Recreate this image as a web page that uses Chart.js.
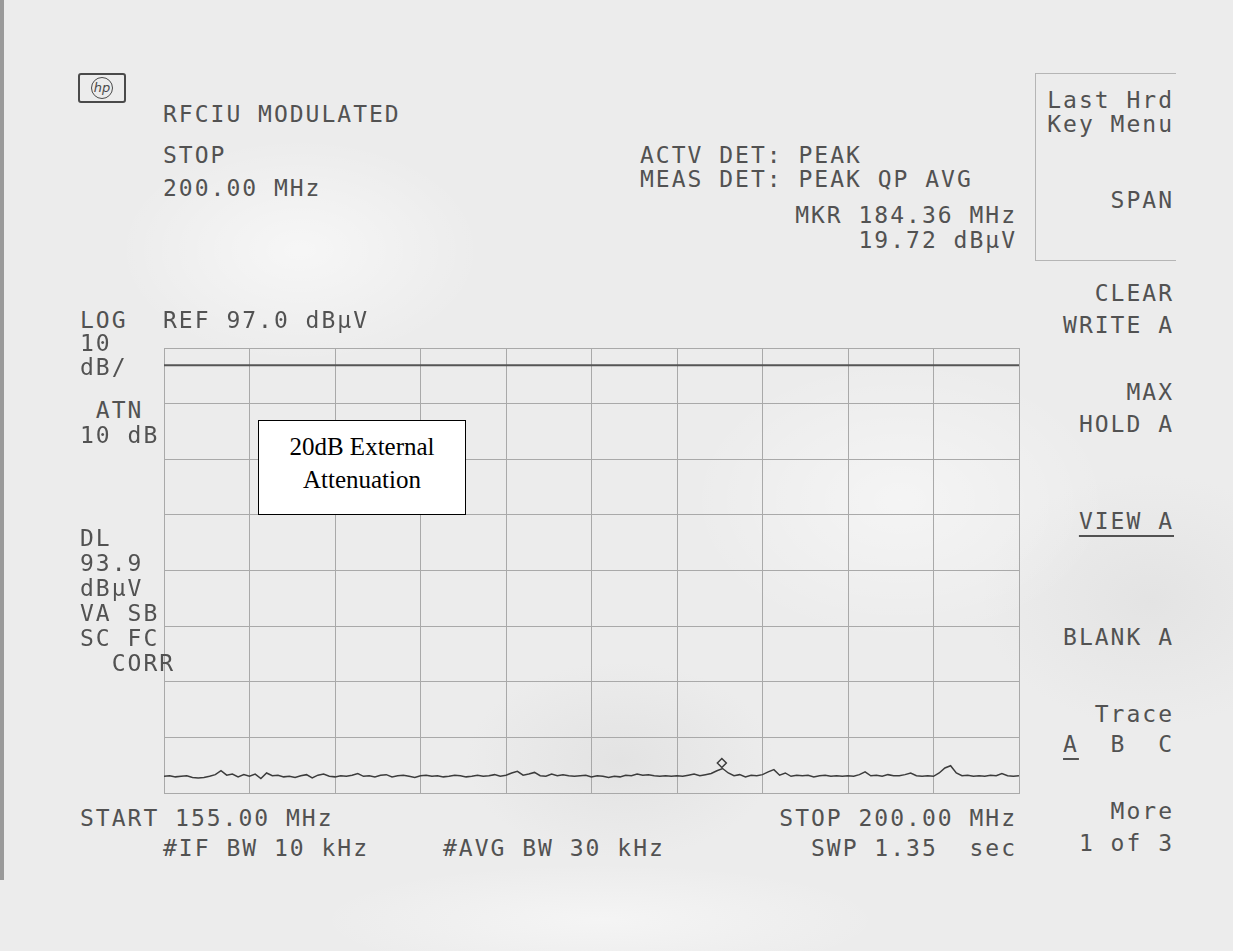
<!DOCTYPE html>
<html>
<head>
<meta charset="utf-8">
<script src="https://cdn.jsdelivr.net/npm/chart.js@4.4.1/dist/chart.umd.min.js"></script>
<style>
  html, body { margin: 0; padding: 0; }
  body {
    width: 1233px; height: 951px; position: relative; overflow: hidden;
    background:
      radial-gradient(ellipse 260px 160px at 300px 250px, rgba(255,255,255,0.55), rgba(255,255,255,0) 70%),
      radial-gradient(ellipse 300px 200px at 900px 500px, rgba(255,255,255,0.45), rgba(255,255,255,0) 70%),
      radial-gradient(ellipse 220px 140px at 620px 760px, rgba(210,210,210,0.35), rgba(210,210,210,0) 70%),
      radial-gradient(ellipse 240px 180px at 1150px 600px, rgba(215,215,215,0.4), rgba(215,215,215,0) 70%),
      radial-gradient(ellipse 400px 80px at 600px 920px, rgba(250,250,250,0.6), rgba(250,250,250,0) 70%),
      #ececec;
  }
  .edge { position: absolute; left: 0; top: 0; width: 4px; height: 880px; background: #9a9a9a; }
  .t {
    position: absolute; white-space: pre; color: #525252;
    font-family: "DejaVu Sans Mono", monospace; font-size: 23px; line-height: 24px;
    letter-spacing: 2.0px;
  }
  .r { text-align: right; }
  .u { text-decoration: underline; text-underline-offset: 6px; text-decoration-thickness: 2px; }
  #logo {
    position: absolute; left: 78px; top: 73px; width: 48px; height: 30px;
    border: 2px solid #4a4a4a; border-radius: 3px; box-sizing: border-box;
  }
  #logo span {
    position: absolute; left: 11px; top: 2px; width: 20px; height: 20px;
    border: 1.5px solid #4a4a4a; border-radius: 50%;
    font: italic 13px "DejaVu Sans", sans-serif; color: #4a4a4a;
    text-align: center; line-height: 20px;
  }
  #menuBox {
    position: absolute; left: 1035px; top: 73px; width: 140px; height: 186px;
    border-left: 1.5px solid #b5b5b5; border-top: 1.5px solid #b5b5b5; border-bottom: 1.5px solid #b5b5b5;
  }
  #wrap { position: absolute; left: 158px; top: 342px; width: 867px; height: 457px; }
  #note {
    position: absolute; left: 258px; top: 420px; width: 208px; height: 95px; box-sizing: border-box;
    border: 1.5px solid #000; background: #fff;
    font-family: "Liberation Serif", "Times New Roman", serif; font-size: 25px; line-height: 33px;
    color: #000; text-align: center; padding-top: 9px;
  }
</style>
</head>
<body>
<div class="edge"></div>
<div id="logo"><span>hp</span></div>
<div id="menuBox"></div>
<div id="wrap"><canvas id="spectrum"></canvas></div>
<div id="note">20dB External<br>Attenuation</div>

<script>
// sweep points (MHz) and trace A levels (dBµV)
const sweepFreqs = [
  155.0,155.3,155.6,155.9,156.2,156.5,156.8,157.1,157.4,157.7,
  158.0,158.3,158.6,158.9,159.2,159.5,159.8,160.1,160.4,160.7,
  161.0,161.3,161.6,161.9,162.2,162.5,162.8,163.1,163.4,163.7,
  164.0,164.3,164.6,164.9,165.2,165.5,165.8,166.1,166.4,166.7,
  167.0,167.3,167.6,167.9,168.2,168.5,168.8,169.1,169.4,169.7,
  170.0,170.3,170.6,170.9,171.2,171.5,171.8,172.1,172.4,172.7,
  173.0,173.3,173.6,173.9,174.2,174.5,174.8,175.1,175.4,175.7,
  176.0,176.3,176.6,176.9,177.2,177.5,177.8,178.1,178.4,178.7,
  179.0,179.3,179.6,179.9,180.2,180.5,180.8,181.1,181.4,181.7,
  182.0,182.3,182.6,182.9,183.2,183.5,183.8,184.1,184.4,184.7,
  185.0,185.3,185.6,185.9,186.2,186.5,186.8,187.1,187.4,187.7,
  188.0,188.3,188.6,188.9,189.2,189.5,189.8,190.1,190.4,190.7,
  191.0,191.3,191.6,191.9,192.2,192.5,192.8,193.1,193.4,193.7,
  194.0,194.3,194.6,194.9,195.2,195.5,195.8,196.1,196.4,196.7,
  197.0,197.3,197.6,197.9,198.2,198.5,198.8,199.1,199.4,199.7,
  200.0
];
const traceA = [
  20.0,20.1,19.9,20.0,20.1,19.8,19.7,19.8,20.0,20.3,
  21.0,20.2,20.4,19.9,20.3,20.0,20.4,19.6,20.6,20.1,
  20.2,19.9,20.0,19.8,20.1,20.3,19.7,20.2,20.4,20.0,
  19.9,20.1,20.0,20.2,20.5,20.0,20.1,19.9,20.2,20.3,
  19.9,20.1,20.2,20.0,19.8,20.1,20.2,20.0,20.1,19.9,
  20.0,20.2,20.1,19.9,20.0,20.2,20.0,20.1,20.3,20.0,
  20.2,20.6,20.9,20.2,20.4,20.7,20.1,20.0,20.4,20.1,
  20.3,20.1,20.0,20.1,20.2,19.9,20.1,20.0,19.8,20.0,
  19.9,20.2,20.1,20.4,20.2,20.3,20.1,20.0,20.1,20.0,
  20.1,20.0,20.2,20.4,20.1,20.3,20.5,21.0,21.4,20.6,
  20.1,20.3,19.9,20.2,20.1,20.3,20.8,21.2,20.2,20.6,
  20.0,20.2,20.1,20.2,19.9,20.1,20.2,20.0,20.1,20.0,
  20.1,20.0,20.3,20.8,20.1,20.2,20.0,20.3,20.1,20.1,
  20.3,20.6,20.1,20.0,20.1,20.0,20.6,21.5,21.9,20.6,
  20.1,20.2,20.0,20.1,20.0,20.2,20.1,20.5,20.1,20.0,
  20.1
];

const startFreq = 155.0;
const stopFreq = 200.0;
const freqPerDiv = 4.5;
const refLevel = 97.0;
const dbPerDiv = 10;
const divisions = 8;
const displayLine = 93.9;
const markerFreq = [184.36];
const markerLevel = [22.4];

// screen annotations: [text, x, centerY, align]
const headerTexts = [
  ['RFCIU MODULATED', 163, 114, 'l'],
  ['STOP', 163, 155, 'l'],
  ['200.00 MHz', 163, 188, 'l'],
  ['ACTV DET: PEAK', 640, 155, 'l'],
  ['MEAS DET: PEAK QP AVG', 640, 179, 'l'],
  ['MKR 184.36 MHz', 1015, 215, 'r'],
  ['19.72 dBµV', 1015, 240, 'r'],
  ['LOG', 80, 320, 'l'],
  ['REF 97.0 dBµV', 163, 320, 'l'],
  ['10', 80, 343, 'l'],
  ['dB/', 80, 367, 'l'],
  [' ATN', 80, 410, 'l'],
  ['10 dB', 80, 435, 'l'],
  ['DL', 80, 538, 'l'],
  ['93.9', 80, 563, 'l'],
  ['dBµV', 80, 588, 'l'],
  ['VA SB', 80, 613, 'l'],
  ['SC FC', 80, 638, 'l'],
  ['  CORR', 80, 663, 'l'],
  ['START 155.00 MHz', 80, 818, 'l'],
  ['#IF BW 10 kHz', 163, 848, 'l'],
  ['#AVG BW 30 kHz', 443, 848, 'l'],
  ['STOP 200.00 MHz', 1015, 818, 'r'],
  ['SWP 1.35  sec', 1015, 848, 'r']
];
const softKeys = [
  ['Last Hrd', 100], ['Key Menu', 124], ['SPAN', 200],
  ['CLEAR', 293], ['WRITE A', 325], ['MAX', 392], ['HOLD A', 424],
  ['VIEW A', 521, true], ['BLANK A', 637], ['Trace', 714],
  ['More', 811], ['1 of 3', 843]
];

function addText(txt, x, cy, align, underline) {
  const d = document.createElement('div');
  d.className = 't' + (align === 'r' ? ' r' : '') + (underline ? ' u' : '');
  d.textContent = txt;
  d.style.top = (cy - 12) + 'px';
  if (align === 'r') d.style.right = (1233 - x - 2) + 'px';
  else d.style.left = x + 'px';
  document.body.appendChild(d);
}

headerTexts.forEach(([t, x, y, a]) => addText(t, x, y, a));
softKeys.forEach(([t, y, u]) => addText(t, 1172, y, 'r', u));

// "A  B  C" with the active trace underlined
const abc = document.createElement('div');
abc.className = 't r';
abc.style.right = (1233 - 1174) + 'px';
abc.style.top = (744 - 12) + 'px';
abc.innerHTML = '<span class="u">A</span>  B  C';
document.body.appendChild(abc);

const gridColor = '#a9a9a9';
const traceColor = '#3c3c3c';

new Chart(document.getElementById('spectrum'), {
  type: 'line',
  data: {
    datasets: [
      {
        label: 'Trace A',
        data: sweepFreqs.map((f, i) => ({ x: f, y: traceA[i] })),
        borderColor: traceColor,
        borderWidth: 1.5,
        pointRadius: 0,
        tension: 0
      },
      {
        label: 'DL',
        data: [{ x: startFreq, y: displayLine }, { x: stopFreq, y: displayLine }],
        borderColor: '#555',
        borderWidth: 2,
        pointRadius: 0
      },
      {
        label: 'Marker',
        data: markerFreq.map((f, i) => ({ x: f, y: markerLevel[i] })),
        showLine: false,
        pointStyle: 'rectRot',
        pointRadius: 4.5,
        pointBorderWidth: 1.5,
        pointBorderColor: traceColor,
        pointBackgroundColor: 'rgba(0,0,0,0)'
      }
    ]
  },
  options: {
    responsive: true,
    maintainAspectRatio: false,
    animation: false,
    layout: { padding: 5 },
    plugins: { legend: { display: false }, tooltip: { enabled: false } },
    scales: {
      x: {
        type: 'linear',
        min: startFreq, max: stopFreq,
        ticks: { display: false, stepSize: freqPerDiv },
        grid: { color: gridColor, lineWidth: 1, drawTicks: false },
        border: { display: true, color: gridColor },
        afterFit: s => { s.height = 0; }
      },
      y: {
        min: refLevel - divisions * dbPerDiv, max: refLevel,
        ticks: { display: false, stepSize: dbPerDiv },
        grid: { color: gridColor, lineWidth: 1, drawTicks: false },
        border: { display: true, color: gridColor },
        afterFit: s => { s.width = 0; }
      }
    }
  }
});
</script>
</body>
</html>
